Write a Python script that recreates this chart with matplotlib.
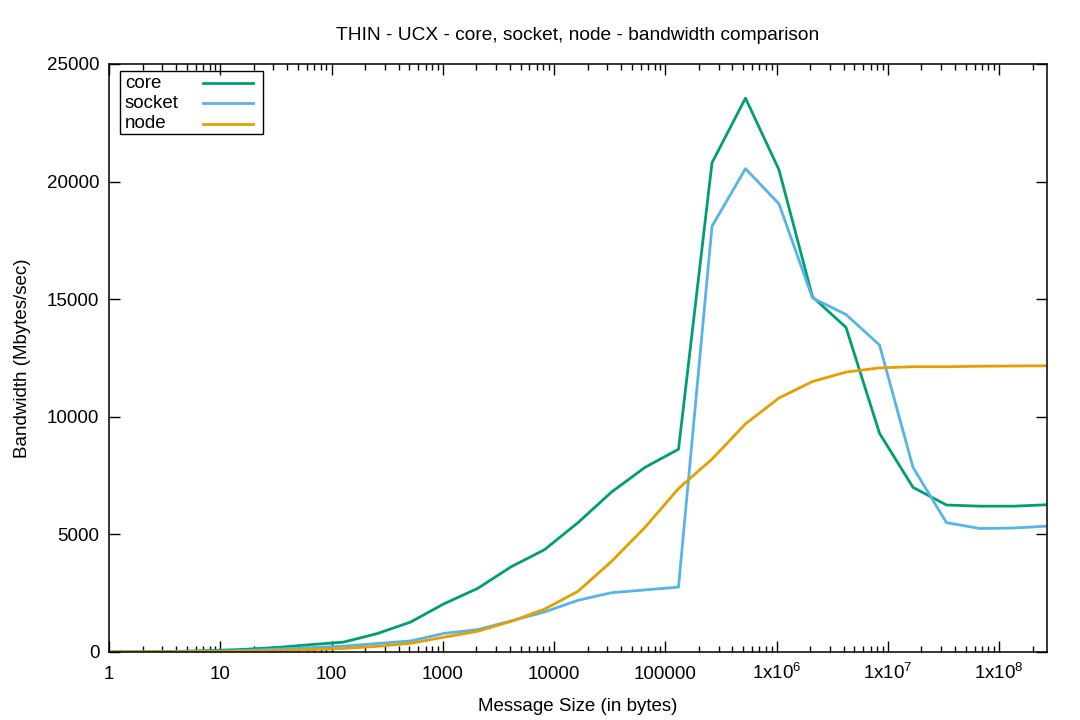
import matplotlib
matplotlib.use('Agg')
import matplotlib.pyplot as plt
from matplotlib.lines import Line2D
from matplotlib.patches import Rectangle
from matplotlib.ticker import FixedLocator, FuncFormatter, LogLocator, NullFormatter
import numpy as np

exponents = list(range(29))
msg_size = [2 ** k for k in exponents]

core = [5, 12, 25, 60, 110, 190, 310, 420, 780, 1270, 2050, 2700, 3620, 4350,
        5500, 6800, 7850, 8620, 20800, 23550, 20500, 15100, 13800, 9300,
        7000, 6250, 6200, 6200, 6260]
socket = [3, 7, 15, 30, 60, 120, 180, 250, 360, 470, 790, 950, 1320, 1700,
          2200, 2520, 2640, 2760, 18100, 20550, 19050, 15050, 14350, 13050,
          7850, 5500, 5250, 5270, 5350]
node = [2, 4, 8, 15, 30, 55, 100, 150, 240, 370, 630, 880, 1300, 1820,
        2580, 3850, 5300, 6950, 8200, 9700, 10800, 11500, 11900, 12080,
        12130, 12130, 12150, 12160, 12170]

labels = ['core', 'socket', 'node']
colors = ['#009e73', '#56b4e9', '#e69f00']

plt.rcParams['font.family'] = ['Liberation Sans', 'DejaVu Sans']
plt.rcParams['font.size'] = 13.5
plt.rcParams['mathtext.fontset'] = 'custom'
plt.rcParams['mathtext.rm'] = 'Liberation Sans'

W, H = 1080, 720
fig = plt.figure(figsize=(W / 100, H / 100), dpi=100)
ax = fig.add_axes([109 / W, 1 - 652 / H, (1047 - 109) / W, (652 - 64) / H])

for series, lab, col in zip([core, socket, node], labels, colors):
    ax.plot(msg_size, series, color=col, lw=2.0, label=lab)

ax.set_xscale('log')
ax.set_xlim(1, 2 ** 28)
ax.set_ylim(0, 25000)
ax.set_yticks(range(0, 25001, 5000))


def xfmt(v, pos):
    e = int(round(np.log10(v)))
    if e <= 5:
        return str(10 ** e)
    return r'1x10$^{%d}$' % e


ax.xaxis.set_major_locator(FixedLocator([10.0 ** e for e in range(9)]))
ax.xaxis.set_major_formatter(FuncFormatter(xfmt))
ax.xaxis.set_minor_locator(LogLocator(base=10, subs=np.arange(2, 10), numticks=20))
ax.xaxis.set_minor_formatter(NullFormatter())

ax.tick_params(which='both', direction='in', top=True, right=True, width=1)
ax.tick_params(which='major', length=8, labelsize=13.5)
ax.tick_params(axis='y', which='major', pad=7)
ax.tick_params(axis='x', which='major', pad=19.5)
ax.tick_params(which='minor', length=4)
for lbl in ax.get_xticklabels():
    lbl.set_verticalalignment('baseline')
for s in ax.spines.values():
    s.set_linewidth(1.1)

ax.set_title('THIN - UCX - core, socket, node - bandwidth comparison',
             pad=17, fontsize=13.8)
ax.set_xlabel('Message Size (in bytes)', labelpad=10.5)
ax.set_ylabel('Bandwidth (Mbytes/sec)', labelpad=11.5)

# gnuplot style key: label left, sample right, boxed
def fx(px):
    return px / W


def fy(py):
    return 1 - py / H


fig.patches.append(Rectangle((fx(120), fy(134)), fx(263) - fx(120), fy(71) - fy(134),
                             transform=fig.transFigure, fill=False,
                             edgecolor='black', lw=1.0))
row_y = [83, 103, 124]
for lab, col, yy in zip(labels, colors, row_y):
    fig.text(fx(125), fy(yy), lab, fontsize=13.5, ha='left', va='center')
    fig.lines.append(Line2D([fx(203), fx(253)], [fy(yy), fy(yy)],
                            transform=fig.transFigure, color=col, lw=2.0))

fig.savefig('out.png', dpi=100)
